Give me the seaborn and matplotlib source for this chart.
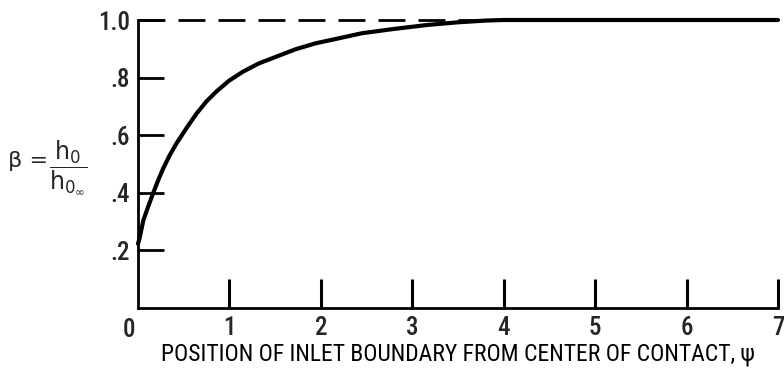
import matplotlib
matplotlib.use("Agg")
import matplotlib.pyplot as plt
import seaborn as sns
import pandas as pd
from matplotlib import font_manager

# Data
psi = [0.0, 0.02, 0.058, 0.11, 0.167, 0.22, 0.275, 0.346, 0.42, 0.527, 0.64, 0.745, 0.855,
       0.995, 1.145, 1.32, 1.507, 1.72, 1.942, 2.19, 2.449, 2.80, 3.17, 3.5, 3.8, 4.0, 5.0, 6.0, 7.0]
beta = [0.223, 0.246, 0.304, 0.351, 0.40, 0.443, 0.484, 0.530, 0.571, 0.623, 0.675, 0.716, 0.751,
        0.789, 0.820, 0.849, 0.872, 0.898, 0.919, 0.936, 0.954, 0.969, 0.983, 0.992, 0.998, 1.0, 1.0, 1.0, 1.0]
asym_x = [0.0, 3.75]
asym_y = [1.0, 1.0]
xticks = [0, 1, 2, 3, 4, 5, 6, 7]
xtick_labels = ["0", "1", "2", "3", "4", "5", "6", "7"]
yticks = [0.2, 0.4, 0.6, 0.8, 1.0]
ytick_labels = [".2", ".4", ".6", ".8", "1.0"]

sns.set_theme(style="white")
names = {f.name for f in font_manager.fontManager.ttflist}
fam = [f for f in ["Liberation Sans Narrow", "Roboto Condensed", "DejaVu Sans"] if f in names] or ["DejaVu Sans"]
plt.rcParams['font.family'] = fam + ["DejaVu Sans"]
plt.rcParams['mathtext.default'] = 'regular'

fig = plt.figure(figsize=(7.84, 3.71), dpi=100)
ax = fig.add_axes([138/784, 1 - 308/371, (778 - 138)/784, (308 - 20)/371])

df = pd.DataFrame({"psi": psi, "beta": beta})
sns.lineplot(data=df, x="psi", y="beta", ax=ax, color="black", linewidth=3.0, clip_on=False,
             sort=True, estimator=None)
ad = pd.DataFrame({"x": asym_x, "y": asym_y})
sns.lineplot(data=ad, x="x", y="y", ax=ax, color="black", linewidth=2.0,
             linestyle=(0, (9.7, 4.7)), clip_on=False)

ax.set_xlim(0, 7)
ax.set_ylim(0, 1.0)
for s in ["top", "right"]:
    ax.spines[s].set_visible(False)
for s in ["left", "bottom"]:
    ax.spines[s].set_color("black")
    ax.spines[s].set_linewidth(2.0)

ax.set_xticks(xticks[1:])
ax.set_xticklabels(xtick_labels[1:])
ax.set_yticks(yticks)
ax.set_yticklabels(ytick_labels)
ax.tick_params(axis="x", direction="in", length=21, width=2.2, pad=6, labelsize=18, color="black")
ax.tick_params(axis="y", direction="in", length=19, width=2.0, pad=6, labelsize=18, color="black")
ax.tick_params(bottom=True, left=True)
for lab in ax.get_xticklabels() + ax.get_yticklabels():
    lab.set_fontweight("medium")
ax.text(-0.1, -0.035, xtick_labels[0], transform=ax.transData, ha="center", va="top",
        fontsize=18, fontweight="medium")

ax.set_xlabel("POSITION OF INLET BOUNDARY FROM CENTER OF CONTACT, \u03c8", fontsize=17,
              labelpad=2, color="black")
ax.set_ylabel("")
fig.text(8/784, 1 - 161/371, "\u03b2 =", fontsize=16, va="center", ha="left", family="DejaVu Sans")
fig.text(68/784, 1 - 168/371, r"$\dfrac{h_0}{h_{0_\infty}}$", fontsize=17,
         va="center", ha="center", family="DejaVu Sans")

fig.savefig("out.png", dpi=100)
